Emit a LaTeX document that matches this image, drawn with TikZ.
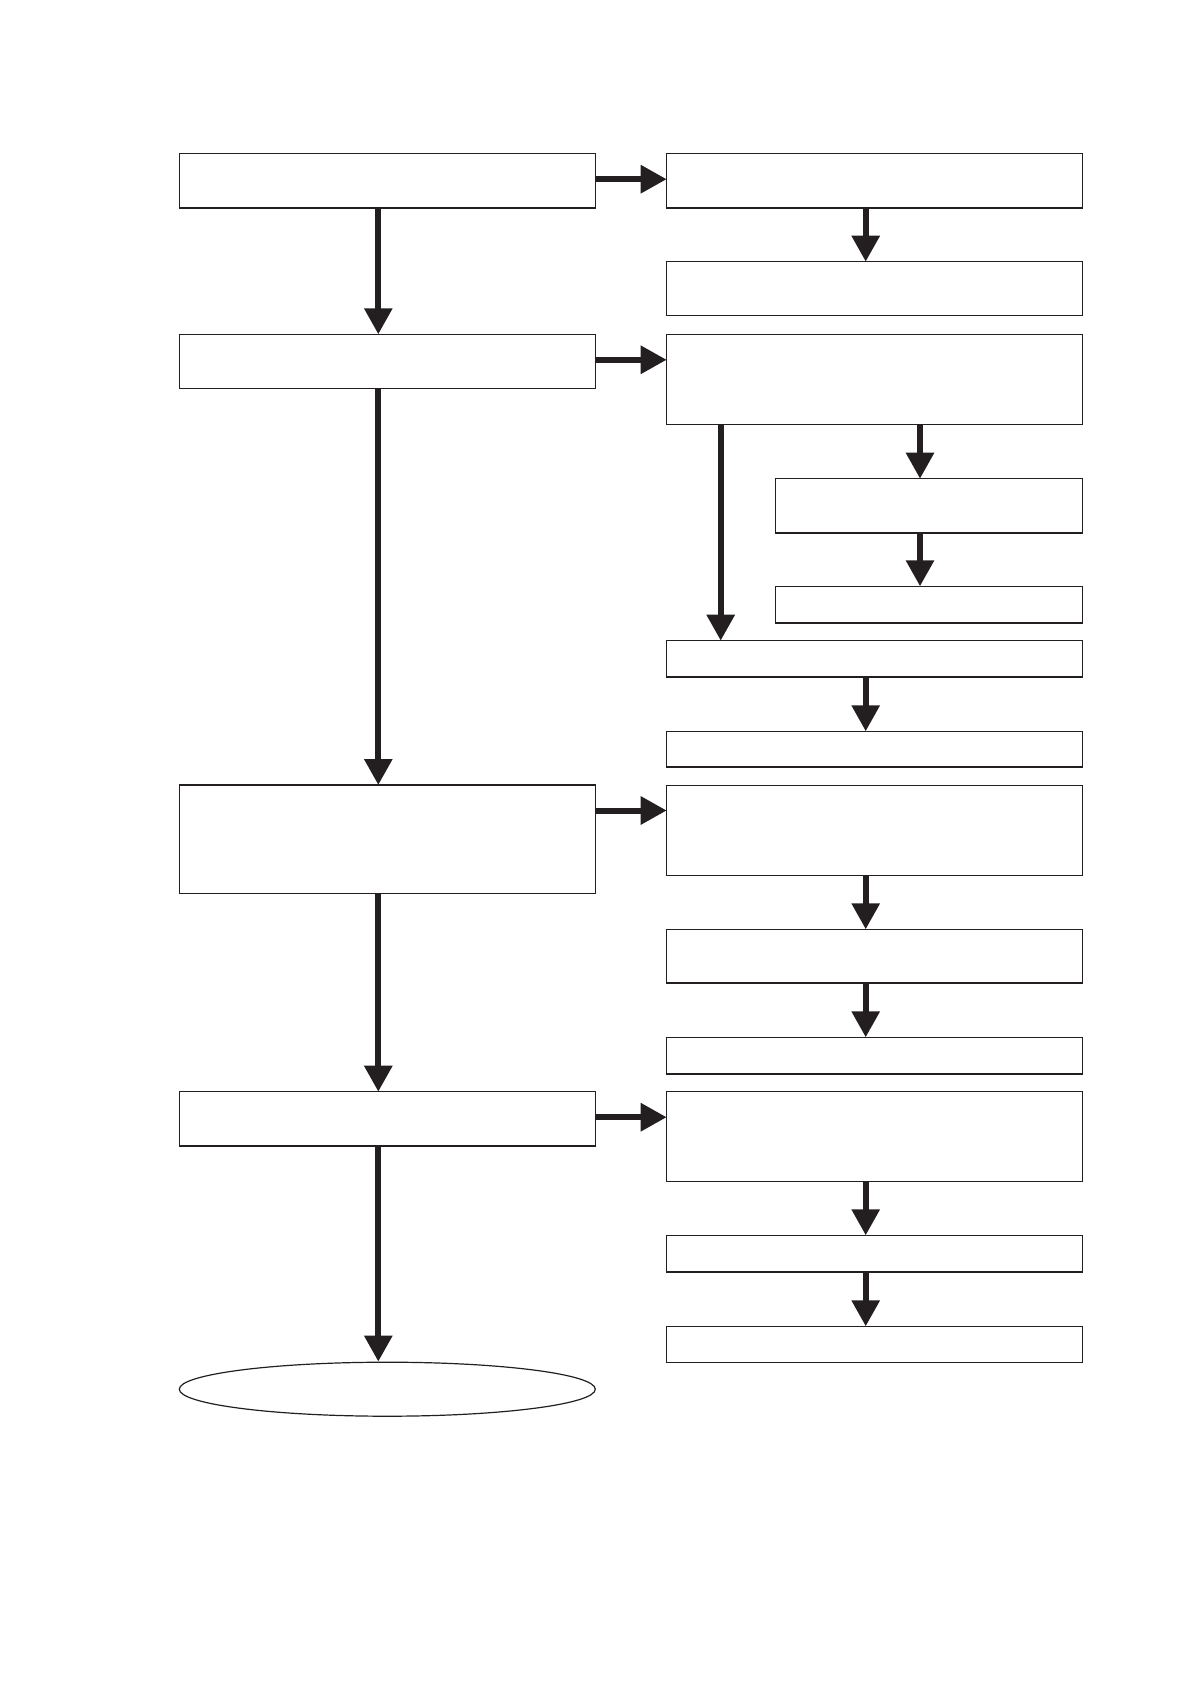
\documentclass[tikz,border=0pt]{standalone}
\usepackage{tikz}
\usetikzlibrary{calc}
\usetikzlibrary{arrows.meta}
\usetikzlibrary{shapes.geometric}
\definecolor{ink}{HTML}{231F20}
\tikzset{
    box/.style={draw=ink, line width=0.7pt, inner sep=0pt, outer sep=0pt,
        anchor=north west, minimum width=208pt, minimum height=#1},
    subbox/.style={box=#1, minimum width=153.7pt},
    flow/.style={draw=ink, line width=3pt,
        -{Triangle[width=13.5pt,length=13pt]}},
}
\begin{document}
\begin{tikzpicture}[x=0.5pt,y=-0.5pt]
                    \useasboundingbox (0,0) rectangle (1190,1684);

                    \node[box=27.2pt] (L1) at (179.3,153.7) {};
                    \node[box=27pt]   (L2) at (179.3,334.3) {};
                    \node[box=54.2pt] (L3) at (179.3,785) {};
                    \node[box=27.2pt] (L4) at (179.3,1091.7) {};
                    \node[ellipse, draw=ink, line width=0.6pt, inner sep=0pt,
                        minimum width=208pt, minimum height=27pt] (E) at (387.3,1389.2) {};

                    \node[box=27.2pt] (R1) at (666.7,153.7) {};
                    \node[box=26.8pt] (R2) at (666.7,261.7) {};
                    \node[box=45pt]   (R3) at (666.7,334.3) {};
                    \node[subbox=27.2pt] (R3a) at (775.3,478.7) {};
                    \node[subbox=18.3pt] (R3b) at (775.3,586.3) {};
                    \node[box=18.2pt] (R4) at (666.7,640.7) {};
                    \node[box=17.9pt] (R5) at (666.7,731.3) {};
                    \node[box=45pt]   (R6) at (666.7,785.3) {};
                    \node[box=26.9pt] (R7) at (666.7,929.3) {};
                    \node[box=18.3pt] (R8) at (666.7,1037.3) {};
                    \node[box=45pt]   (R9) at (666.7,1091.7) {};
                    \node[box=18.3pt] (R10) at (666.7,1235.3) {};
                    \node[box=18pt]   (R11) at (666.7,1326.3) {};

                    \foreach \a/\b in {L1/L2,L2/L3,L3/L4,L4/E,R1/R2,R4/R5,R6/R7,R7/R8,R9/R10,R10/R11}
                        \draw[flow] ([xshift=-4.5pt]\a.south) -- ([xshift=-4.5pt]\b.north);

                    \foreach \a/\b in {L1/R1,L2/R3,L3/R6,L4/R9}
                        \draw[flow] ($(\a.north east)+(0,-12.75pt)$) coordinate (h) -- (h -| \b.west);

                    \coordinate (s) at ([xshift=-4.5pt]R3a.north);
                    \draw[flow] (s |- R3.south) -- (s);
                    \draw[flow] ([xshift=-4.5pt]R3a.south) -- ([xshift=-4.5pt]R3b.north);

                    \draw[flow] ($(R3.south west)+(27pt,0)$) coordinate (br) -- (br |- R4.north);
                \end{tikzpicture}
\end{document}
